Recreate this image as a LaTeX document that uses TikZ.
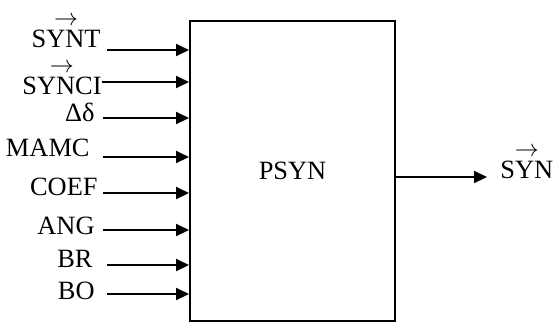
\documentclass[tikz,border=0pt]{standalone}
\usepackage{amsmath}
\usepackage{fontspec}
\setmainfont{Liberation Serif}
\usetikzlibrary{arrows.meta,positioning,calc}
\newcommand{\arrvec}[1]{$\overset{\textstyle\rightarrow}{\text{#1}}$}

\begin{document}
\begin{tikzpicture}[x=0.5pt, y=-0.5pt, >={Triangle[length=6.5pt,width=6pt]}, font=\fontsize{13.2}{15}\selectfont,
  box/.style={draw, line width=1pt, minimum width=102.5pt, minimum height=150pt, inner sep=0pt},
  lbl/.style={anchor=mid east, inner sep=0pt},
  sig/.style={->, line width=1pt}]
  \useasboundingbox (0,0) rectangle (555,323);
  \node[box] (psyn) at (292.5,171) {PSYN};
  % entradas
  \node[lbl] (synt)  at (101,43)  {\arrvec{SYNT}};
  \node[lbl] (synci) at (102,90)  {\arrvec{SYNCI}};
  \node[lbl] (dd)    at (95,117)  {Δδ};
  \node[lbl] (mamc)  at (90,152)  {MAMC};
  \node[lbl] (coef)  at (98,191)  {COEF};
  \node[lbl] (ang)   at (95,230)  {ANG};
  \node[lbl] (br)    at (93,263)  {BR};
  \node[lbl] (bo)    at (95,295)  {BO};
  \draw[sig] ($(synt.mid east)+(6,7)$)   -- ($(synt.mid east -| psyn.west)+(0,7)$);
  \draw[sig] ($(synci.mid east)+(0,-8)$) -- ($(synci.mid east -| psyn.west)+(0,-8)$);
  \draw[sig] ($(dd.mid east)+(8,1)$)     -- ($(dd.mid east -| psyn.west)+(0,1)$);
  \draw[sig] ($(mamc.mid east)+(13,5)$)  -- ($(mamc.mid east -| psyn.west)+(0,5)$);
  \draw[sig] ($(coef.mid east)+(5,2)$)   -- ($(coef.mid east -| psyn.west)+(0,2)$);
  \draw[sig] ($(ang.mid east)+(8,0)$)    -- (ang.mid east -| psyn.west);
  \draw[sig] ($(br.mid east)+(14,2)$)    -- ($(br.mid east -| psyn.west)+(0,2)$);
  \draw[sig] ($(bo.mid east)+(12,-1)$)   -- ($(bo.mid east -| psyn.west)+(0,-1)$);
  % sortie
  \node[anchor=mid west, inner sep=0pt] (syn) at (500,174) {\arrvec{SYN}};
  \draw[sig] ($(psyn.east |- syn.mid west)+(0,3)$) -- ($(syn.mid west)+(-13,3)$);
\end{tikzpicture}
\end{document}
